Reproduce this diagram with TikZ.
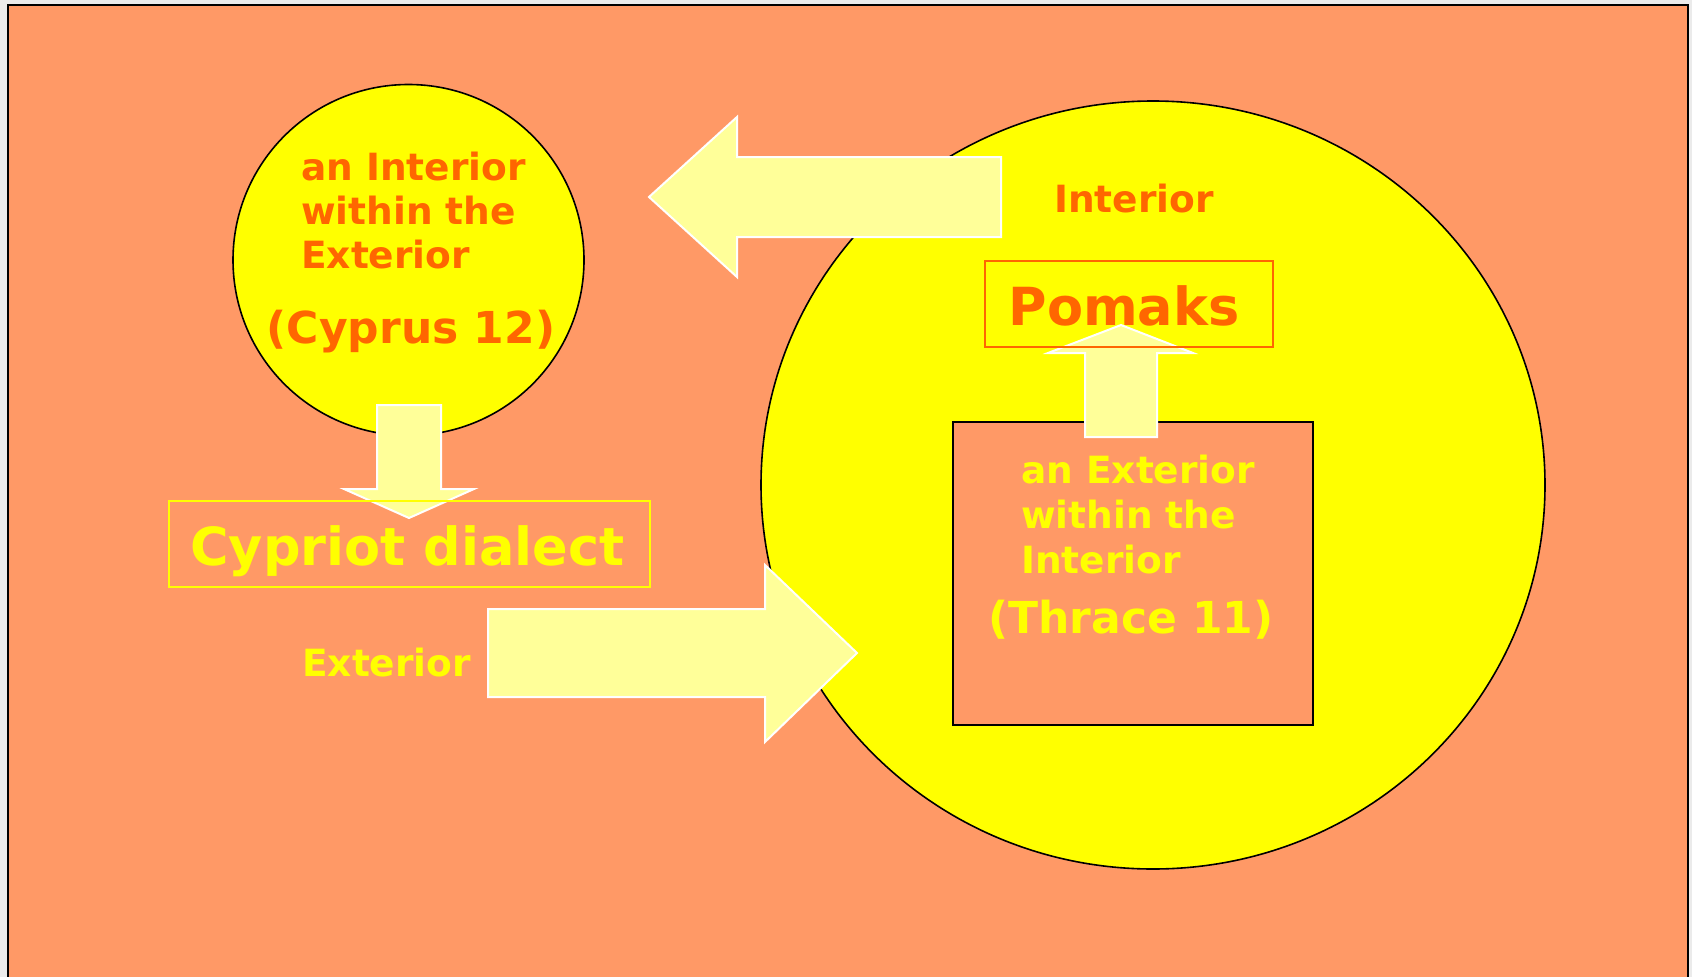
\documentclass[tikz,border=0pt]{standalone}
\usepackage{fontspec}
\setmainfont{DejaVu Sans}
\usetikzlibrary{shapes.geometric}

\definecolor{salmon}{HTML}{FF9966}
\definecolor{lemon}{HTML}{FFFF99}
\definecolor{sun}{HTML}{FFFF00}
\definecolor{deeporange}{HTML}{FF6600}
\definecolor{paper}{HTML}{EBEBEB}

\begin{document}
\begin{tikzpicture}[x=1pt,y=-1pt]

	\tikzstyle{blob}=[draw=black,line width=1.6pt,fill=sun,inner sep=0pt,outer sep=0pt]
	\tikzstyle{frame}=[line width=1.6pt,inner sep=0pt,outer sep=0pt]
	\tikzstyle{myarrow}=[fill=lemon,draw=white,line width=2pt,line join=miter]
	\tikzstyle{small}=[font=\fontsize{37.5}{44}\selectfont\bfseries,inner sep=0pt,anchor=base west]
	\tikzstyle{paren}=[font=\fontsize{44}{50}\selectfont\bfseries,inner sep=0pt,anchor=base]
	\tikzstyle{big}=[font=\fontsize{52.5}{60}\selectfont\bfseries,inner sep=0pt,anchor=base]

	\fill[paper] (0,0) rectangle (1692,977);
	\useasboundingbox (0,0) rectangle (1692,977);
	\clip (0,0) rectangle (1692,977);
	\filldraw[fill=salmon,draw=black,line width=2pt] (8,5) rectangle (1688,995);

	% the two worlds
	\node[blob,ellipse,minimum width=784pt,minimum height=768pt] (interior) at (1153,485) {};
	\node[frame,draw=black,fill=salmon,minimum width=360pt,minimum height=303pt] (thrace) at (1133,573.5) {};
	\node[blob,circle,minimum size=351pt] (cyprus) at (408.5,260) {};

	% block arrows
	\coordinate (tipL) at (649,197);
	\coordinate (tipD) at (409,518);
	\coordinate (tipR) at (857,653);
	\coordinate (tipU) at (1121,325);
	\filldraw[myarrow] (tipL) -- ++(88,-80) -- ++(0,40) -- ++(264,0) -- ++(0,80) -- ++(-264,0) -- ++(0,40) -- cycle;
	\filldraw[myarrow] (tipD) -- ++(-65,-29) -- ++(33,0) -- ++(0,-84) -- ++(64,0) -- ++(0,84) -- ++(33,0) -- cycle;
	\filldraw[myarrow] (tipR) -- ++(-92,-88) -- ++(0,44) -- ++(-277,0) -- ++(0,88) -- ++(277,0) -- ++(0,45) -- cycle;
	\filldraw[myarrow] (tipU) -- ++(-73,28) -- ++(37,0) -- ++(0,84) -- ++(72,0) -- ++(0,-84) -- ++(36,0) -- cycle;

	\node[frame,draw=sun,minimum width=481pt,minimum height=86pt] (dialectbox) at (409.5,544) {};
	\node[frame,draw=deeporange,minimum width=288pt,minimum height=86pt] (pomaksbox) at (1129,304) {};

	% texts
	\foreach \t [count=\i] in {an Interior,within the,Exterior}
		\node[small,text=deeporange] (cyptxt\i) at (301,{180+44*(\i-1)}) {\t};
	\node[paren,text=deeporange] (cyplabel) at (411,343) {(Cyprus 12)};
	\foreach \t [count=\i] in {an Exterior,within the,Interior}
		\node[small,text=sun] (thrtxt\i) at (1021,{483+45*(\i-1)}) {\t};
	\node[paren,text=sun] (thrlabel) at (1131,633) {(Thrace 11)};

	\node[small,text=deeporange] (intlabel) at (1054,212) {Interior};
	\node[small,text=sun] (extlabel) at (302,676) {Exterior};
	\node[big,text=sun] (dialect) at (407.5,565) {Cypriot dialect};
	\node[big,text=deeporange] (pomaks) at (1124,325) {Pomaks};
\end{tikzpicture}
\end{document}
